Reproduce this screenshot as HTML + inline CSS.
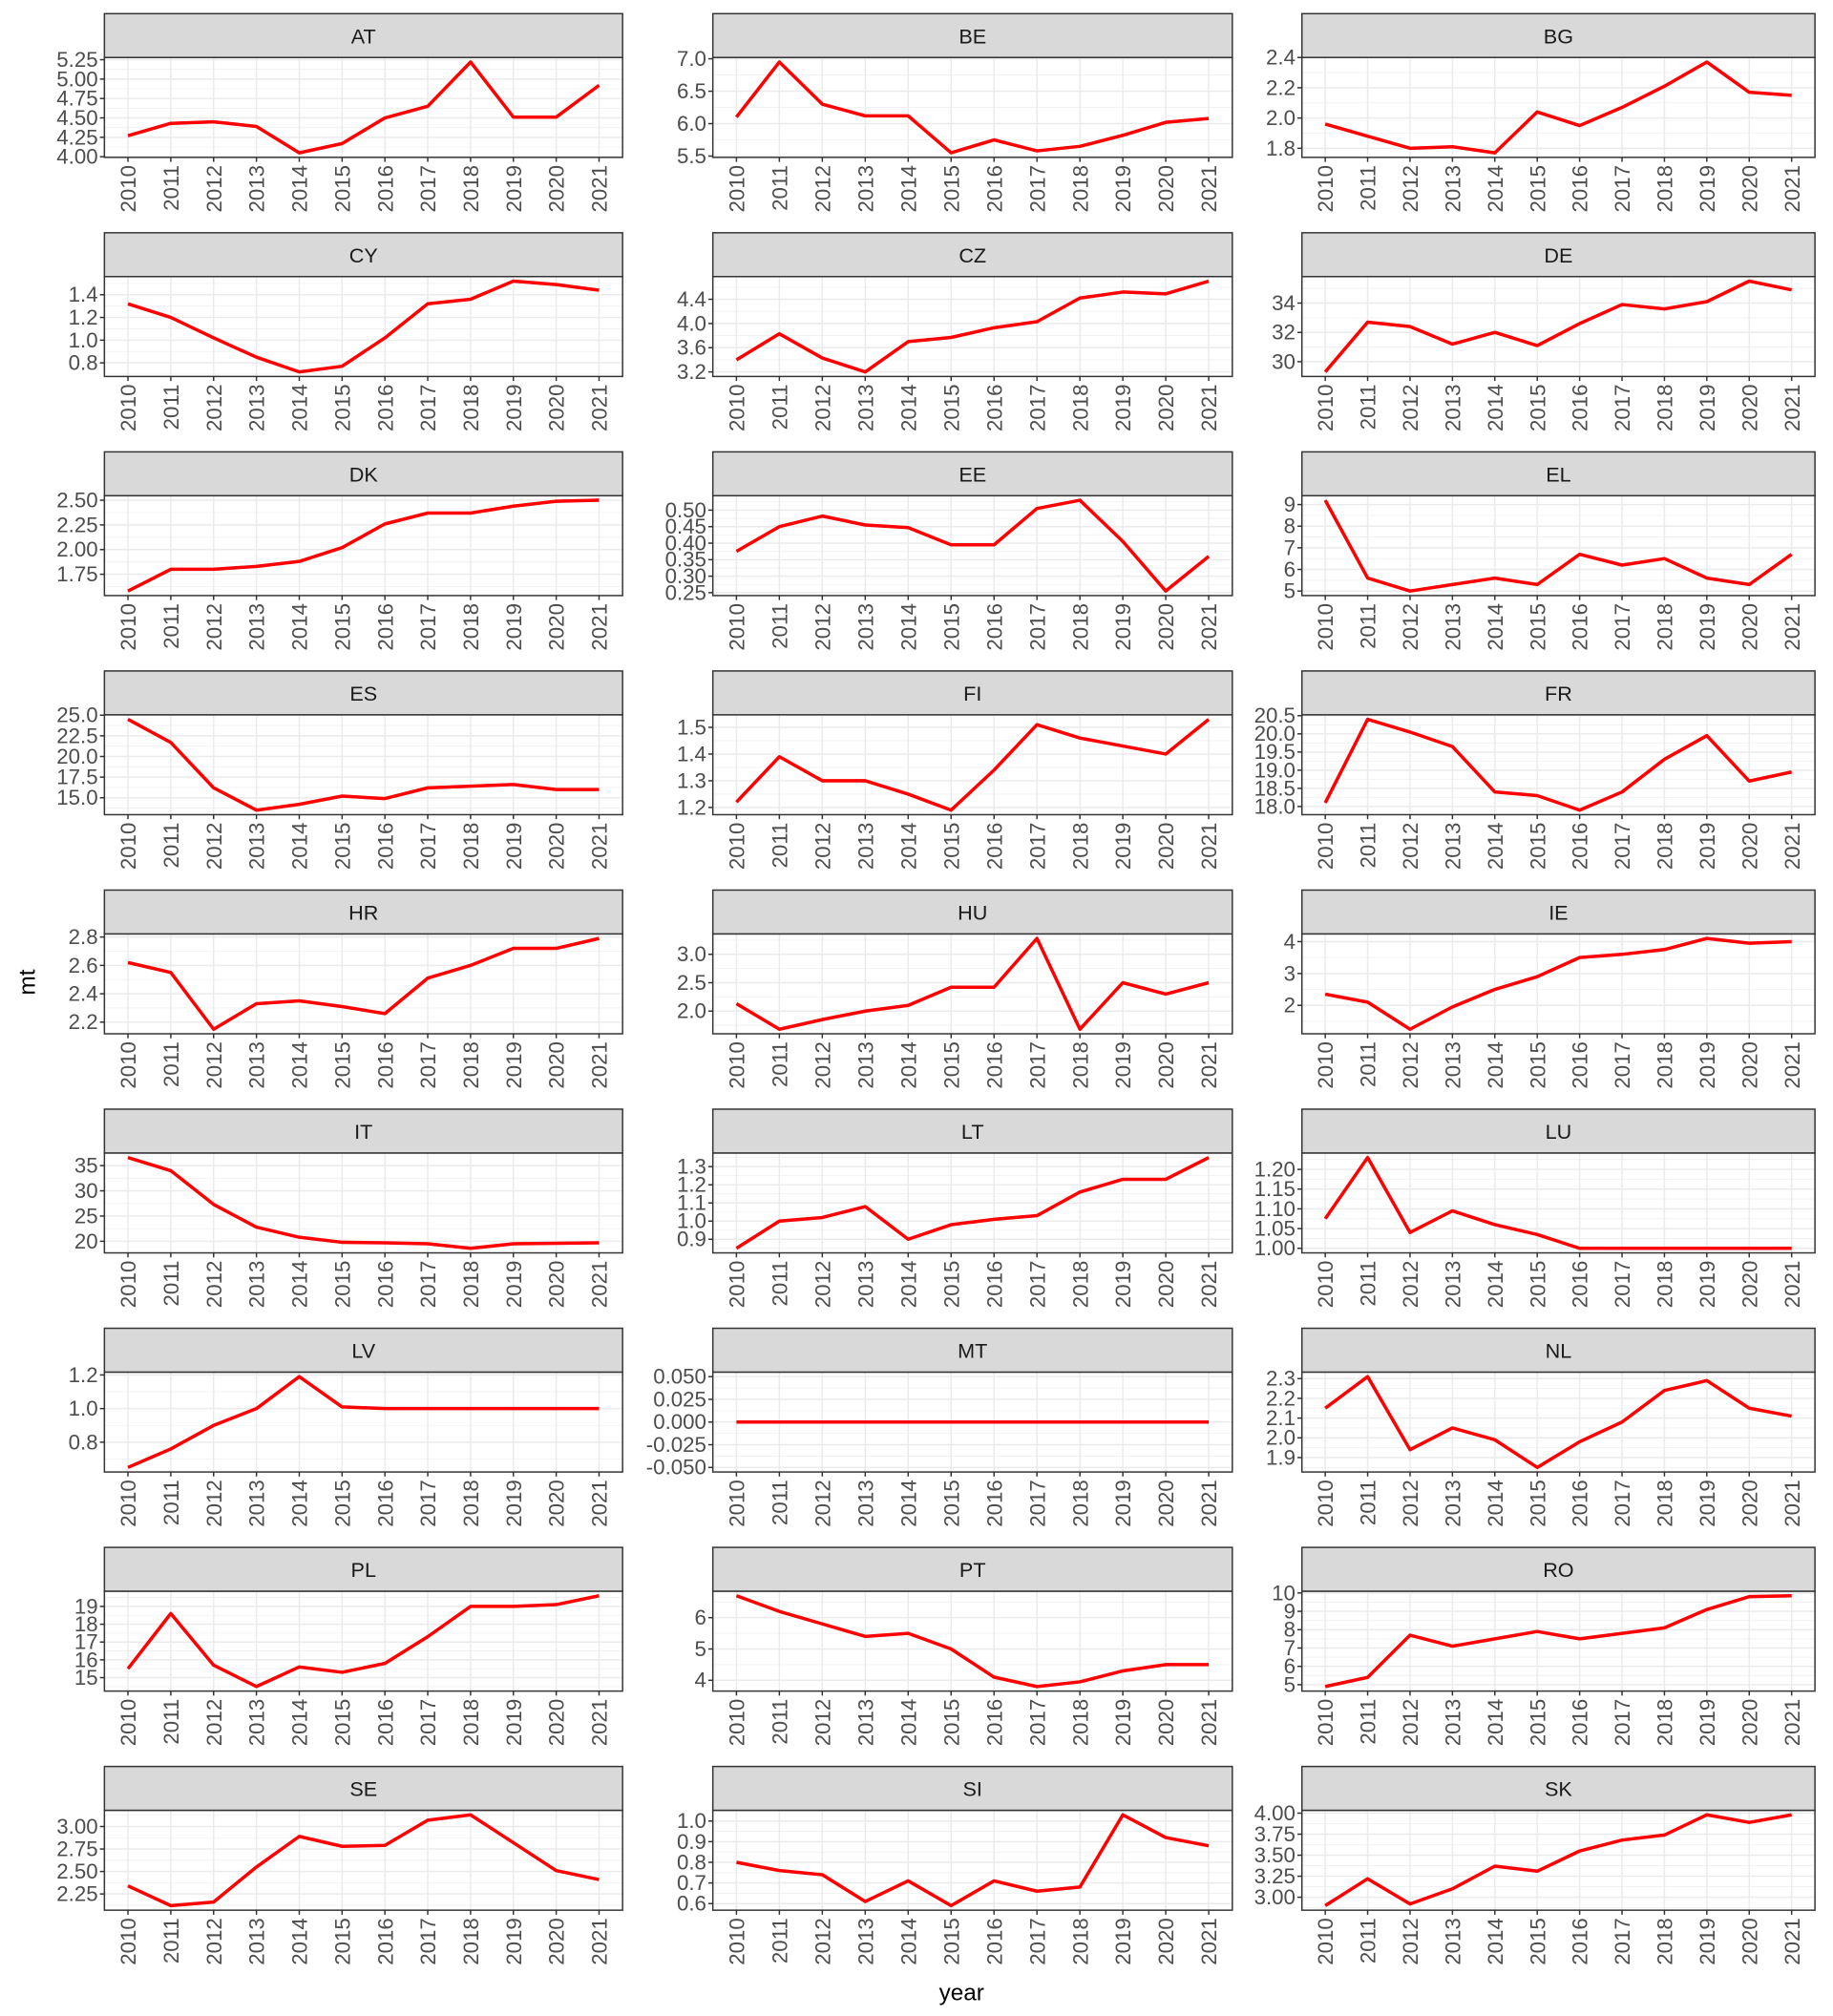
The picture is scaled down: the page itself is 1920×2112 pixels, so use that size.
<!DOCTYPE html>
<html><head><meta charset="utf-8"><style>
html,body{margin:0;padding:0;background:#fff}
svg{display:block;font-family:"Liberation Sans",Arial,sans-serif}
</style></head><body>
<svg id="chart" width="1920" height="2112" viewBox="0 0 1422 1564" xmlns="http://www.w3.org/2000/svg">
<rect width="1422" height="1564" fill="#fff"/>
<text x="0" y="0" transform="translate(27,762) rotate(-90)" text-anchor="middle" font-size="18" fill="#000">mt</text>
<text x="746" y="1552" text-anchor="middle" font-size="18" fill="#000">year</text>
</svg>
<script>
const years = [2010,2011,2012,2013,2014,2015,2016,2017,2018,2019,2020,2021];
const countries = ["AT","BE","BG","CY","CZ","DE","DK","EE","EL","ES","FI","FR","HR","HU","IE","IT","LT","LU","LV","MT","NL","PL","PT","RO","SE","SI","SK"];
const vAT = [4.27,4.43,4.45,4.39,4.05,4.17,4.50,4.65,5.22,4.51,4.51,4.92];
const vBE = [6.1,6.95,6.3,6.12,6.12,5.55,5.75,5.58,5.65,5.82,6.02,6.08];
const vBG = [1.96,1.88,1.80,1.81,1.77,2.04,1.95,2.07,2.21,2.37,2.17,2.15];
const vCY = [1.32,1.2,1.02,0.85,0.72,0.77,1.02,1.32,1.36,1.52,1.49,1.44];
const vCZ = [3.4,3.83,3.43,3.2,3.7,3.77,3.93,4.03,4.42,4.52,4.49,4.7];
const vDE = [29.3,32.7,32.4,31.2,32.0,31.1,32.6,33.9,33.6,34.1,35.5,34.9];
const vDK = [1.58,1.8,1.8,1.83,1.88,2.02,2.26,2.37,2.37,2.44,2.49,2.5];
const vEE = [0.375,0.45,0.482,0.455,0.447,0.395,0.395,0.505,0.53,0.405,0.255,0.36];
const vEL = [9.2,5.6,5.0,5.3,5.6,5.3,6.7,6.2,6.5,5.6,5.3,6.7];
const vES = [24.5,21.7,16.2,13.5,14.2,15.2,14.9,16.2,16.4,16.6,16.0,16.0];
const vFI = [1.22,1.39,1.3,1.3,1.25,1.19,1.34,1.51,1.46,1.43,1.40,1.53];
const vFR = [18.1,20.4,20.05,19.65,18.4,18.3,17.9,18.4,19.3,19.95,18.7,18.95];
const vHR = [2.62,2.55,2.15,2.33,2.35,2.31,2.26,2.51,2.6,2.72,2.72,2.79];
const vHU = [2.13,1.68,1.85,2.0,2.1,2.42,2.42,3.28,1.68,2.5,2.3,2.5];
const vIE = [2.35,2.1,1.25,1.95,2.5,2.9,3.5,3.6,3.75,4.1,3.95,4.0];
const vIT = [36.6,34.0,27.3,22.8,20.8,19.8,19.7,19.5,18.6,19.5,19.6,19.7];
const vLT = [0.85,1.0,1.02,1.08,0.9,0.98,1.01,1.03,1.16,1.23,1.23,1.35];
const vLU = [1.075,1.23,1.04,1.095,1.06,1.035,1.0,1.0,1.0,1.0,1.0,1.0];
const vLV = [0.65,0.76,0.9,1.0,1.19,1.01,1.0,1.0,1.0,1.0,1.0,1.0];
const vMT = [0,0,0,0,0,0,0,0,0,0,0,0];
const vNL = [2.15,2.31,1.94,2.05,1.99,1.85,1.98,2.08,2.24,2.29,2.15,2.11];
const vPL = [15.5,18.6,15.7,14.5,15.6,15.3,15.8,17.3,19.0,19.0,19.1,19.6];
const vPT = [6.7,6.2,5.8,5.4,5.5,5.0,4.1,3.8,3.95,4.3,4.5,4.5];
const vRO = [4.9,5.4,7.7,7.1,7.5,7.9,7.5,7.8,8.1,9.1,9.8,9.85];
const vSE = [2.34,2.12,2.16,2.55,2.89,2.78,2.79,3.07,3.13,2.82,2.51,2.41];
const vSI = [0.8,0.76,0.74,0.61,0.71,0.59,0.71,0.66,0.68,1.03,0.92,0.88];
const vSK = [2.9,3.22,2.92,3.1,3.37,3.31,3.55,3.68,3.74,3.98,3.89,3.98];
const series = [vAT,vBE,vBG,vCY,vCZ,vDE,vDK,vEE,vEL,vES,vFI,vFR,vHR,vHU,vIE,vIT,vLT,vLU,vLV,vMT,vNL,vPL,vPT,vRO,vSE,vSI,vSK];
const tAT=["4.00","4.25","4.50","4.75","5.00","5.25"];
const tBE=["5.5","6.0","6.5","7.0"];
const tBG=["1.8","2.0","2.2","2.4"];
const tCY=["0.8","1.0","1.2","1.4"];
const tCZ=["3.2","3.6","4.0","4.4"];
const tDE=["30","32","34"];
const tDK=["1.75","2.00","2.25","2.50"];
const tEE=["0.25","0.30","0.35","0.40","0.45","0.50"];
const tEL=["5","6","7","8","9"];
const tES=["15.0","17.5","20.0","22.5","25.0"];
const tFI=["1.2","1.3","1.4","1.5"];
const tFR=["18.0","18.5","19.0","19.5","20.0","20.5"];
const tHR=["2.2","2.4","2.6","2.8"];
const tHU=["2.0","2.5","3.0"];
const tIE=["2","3","4"];
const tIT=["20","25","30","35"];
const tLT=["0.9","1.0","1.1","1.2","1.3"];
const tLU=["1.00","1.05","1.10","1.15","1.20"];
const tLV=["0.8","1.0","1.2"];
const tMT=["-0.050","-0.025","0.000","0.025","0.050"];
const tNL=["1.9","2.0","2.1","2.2","2.3"];
const tPL=["15","16","17","18","19"];
const tPT=["4","5","6"];
const tRO=["5","6","7","8","9","10"];
const tSE=["2.25","2.50","2.75","3.00"];
const tSI=["0.6","0.7","0.8","0.9","1.0"];
const tSK=["3.00","3.25","3.50","3.75","4.00"];
const ticks=[tAT,tBE,tBG,tCY,tCZ,tDE,tDK,tEE,tEL,tES,tFI,tFR,tHR,tHU,tIE,tIT,tLT,tLU,tLV,tMT,tNL,tPL,tPT,tRO,tSE,tSI,tSK];

const NS="http://www.w3.org/2000/svg";
const svg=document.getElementById('chart');
const colL=[81,553,1010], colR=[483,956,1408];
function mk(tag,attrs,parent){const e=document.createElementNS(NS,tag);for(const k in attrs)e.setAttribute(k,attrs[k]);parent.appendChild(e);return e;}

countries.forEach((c,i)=>{
  const col=i%3,row=Math.floor(i/3);
  const L=colL[col],R=colR[col];
  const sTop=10.5+170*row, pTop=sTop+34, pBot=pTop+77.5;
  const g=mk('g',{},svg);
  
  
  const vals=series[i];
  let mn=Math.min(...vals),mx=Math.max(...vals);
  if(mn===mx){mn-=0.05;mx+=0.05;}
  const pad=(mx-mn)*0.05; mn-=pad; mx+=pad;
  const y=v=>pBot-(v-mn)/(mx-mn)*(pBot-pTop);
  const xr=(years[years.length-1]-years[0])*1.1, x0=years[0]-(years[years.length-1]-years[0])*0.05;
  const x=yr=>L+(yr-x0)/xr*(R-L);
  mk('rect',{x:L,y:pTop,width:R-L,height:pBot-pTop,fill:'#fff'},g);
  const tv=ticks[i].map(Number);
  for(let k=0;k<tv.length-1;k++){const m=(tv[k]+tv[k+1])/2;const yy=y(m);
    if(yy>pTop&&yy<pBot)mk('line',{x1:L,x2:R,y1:yy,y2:yy,stroke:'#f0f0f0','stroke-width':0.6},g);}
  {const st=tv[1]-tv[0];[tv[0]-st/2,tv[tv.length-1]+st/2].forEach(m=>{const yy=y(m);if(yy>pTop&&yy<pBot)mk('line',{x1:L,x2:R,y1:yy,y2:yy,stroke:'#f0f0f0','stroke-width':0.6},g);});}
  tv.forEach(v=>{const yy=y(v);mk('line',{x1:L,x2:R,y1:yy,y2:yy,stroke:'#ebebeb','stroke-width':1.1},g);});
  years.forEach(yr=>{const xx=x(yr);mk('line',{x1:xx,x2:xx,y1:pTop,y2:pBot,stroke:'#ebebeb','stroke-width':1.1},g);});
  const ln=mk('polyline',{points:vals.map((v,k)=>x(years[k])+','+y(v)).join(' '),fill:'none',stroke:'#ff0000','stroke-width':2.6,'stroke-linejoin':'round'},g);
  
  
  mk('rect',{x:L,y:pTop,width:R-L,height:pBot-pTop,fill:'none',stroke:'#333','stroke-width':1.1},g);
  const s=mk('rect',{x:L,y:sTop,width:R-L,height:pTop-sTop,fill:'#d9d9d9',stroke:'#333','stroke-width':1.1},g);
  
  
  const st=mk('text',{x:(L+R)/2,y:sTop+23,'text-anchor':'middle','font-size':16,fill:'#1a1a1a'},g);st.textContent=c;
  ticks[i].forEach(t=>{const yy=y(Number(t));
    mk('line',{x1:L-3.5,x2:L,y1:yy,y2:yy,stroke:'#333','stroke-width':1.1},g);
    const tx=mk('text',{x:L-5,y:yy+5.5,'text-anchor':'end','font-size':16.5,fill:'#4d4d4d'},g);tx.textContent=t;
    
    });
  years.forEach(yr=>{const xx=x(yr);
    mk('line',{x1:xx,x2:xx,y1:pBot,y2:pBot+3.5,stroke:'#333','stroke-width':1.1},g);
    const tx=mk('text',{x:0,y:0,transform:`translate(${xx+6},${pBot+6}) rotate(-90)`,'text-anchor':'end','font-size':16.5,fill:'#4d4d4d'},g);tx.textContent=yr;
    
    });
});
</script>
</body></html>
